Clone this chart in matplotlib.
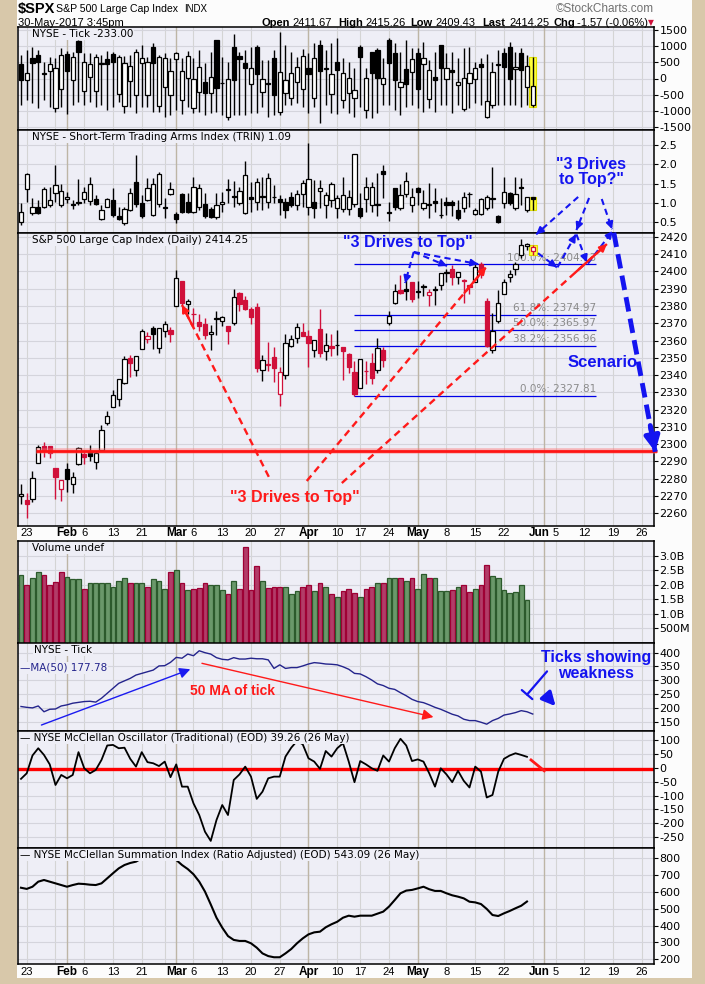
import matplotlib
matplotlib.use('Agg')
import matplotlib.pyplot as plt
from matplotlib.patches import Rectangle
import numpy as np
import pandas as pd

plt.rcParams['axes.unicode_minus'] = False

# ---- S&P 500 daily OHLC, 20-Jan-2017 .. 30-May-2017 ----
spx_open = [2269.96, 2267.78, 2267.88, 2288.88, 2298.63, 2299.02, 2286.01, 2274.02, 2285.59, 2276.69,
            2288.54, 2294.28, 2295.87, 2289.55, 2296.70, 2312.27, 2321.72, 2326.12, 2335.58, 2349.64,
            2343.01, 2354.91, 2361.11, 2367.50, 2355.73, 2365.23, 2366.08, 2380.13, 2394.75, 2380.92,
            2375.23, 2370.74, 2369.81, 2363.49, 2372.52, 2371.56, 2368.55, 2370.34, 2387.71, 2383.71,
            2378.24, 2379.32, 2343.00, 2345.97, 2350.42, 2329.11, 2339.79, 2356.54, 2361.31, 2364.82,
            2362.34, 2354.76, 2366.59, 2353.79, 2356.59, 2357.16, 2355.98, 2352.15, 2341.98, 2332.62,
            2342.53, 2346.79, 2342.69, 2354.74, 2370.33, 2381.51, 2388.98, 2389.70, 2393.68, 2388.50,
            2391.05, 2386.50, 2389.79, 2392.37, 2399.94, 2401.58, 2396.79, 2394.84, 2392.44, 2393.98,
            2404.55, 2382.95, 2354.69, 2371.37, 2387.21, 2397.04, 2401.41, 2409.54, 2414.50, 2411.67]
spx_high = [2276.96, 2271.78, 2284.63, 2299.55, 2300.99, 2299.02, 2286.01, 2279.09, 2289.14, 2283.97,
            2298.31, 2296.18, 2299.40, 2295.91, 2311.08, 2319.23, 2331.58, 2337.58, 2351.30, 2351.31,
            2351.16, 2366.71, 2365.13, 2368.26, 2367.34, 2371.54, 2367.79, 2400.98, 2394.75, 2383.89,
            2378.80, 2375.12, 2373.09, 2369.08, 2376.86, 2374.42, 2368.55, 2390.01, 2388.10, 2385.71,
            2379.55, 2381.93, 2351.81, 2358.92, 2356.22, 2344.90, 2363.78, 2363.36, 2370.42, 2370.35,
            2365.87, 2360.53, 2378.36, 2364.16, 2363.76, 2366.37, 2356.18, 2352.72, 2348.26, 2349.14,
            2348.35, 2352.63, 2361.37, 2356.18, 2376.98, 2392.48, 2398.16, 2395.23, 2393.68, 2394.49,
            2392.93, 2389.82, 2391.43, 2399.29, 2401.36, 2403.87, 2399.74, 2395.72, 2392.44, 2404.05,
            2405.77, 2384.87, 2375.74, 2389.06, 2395.46, 2400.85, 2405.58, 2418.71, 2416.68, 2415.26]
spx_low = [2265.01, 2257.02, 2266.68, 2288.88, 2292.38, 2291.62, 2268.04, 2267.21, 2272.44, 2271.65,
           2287.88, 2288.57, 2290.16, 2285.38, 2296.61, 2311.10, 2321.42, 2322.17, 2334.81, 2338.87,
           2339.58, 2354.91, 2358.34, 2355.09, 2352.87, 2361.87, 2358.96, 2380.13, 2380.17, 2375.39,
           2367.98, 2365.51, 2361.01, 2354.54, 2363.04, 2368.52, 2358.18, 2368.94, 2377.18, 2377.64,
           2369.66, 2341.90, 2336.45, 2342.13, 2335.74, 2322.25, 2337.63, 2356.21, 2358.58, 2362.60,
           2344.73, 2350.72, 2350.52, 2348.90, 2350.74, 2351.50, 2337.25, 2341.18, 2327.81, 2332.51,
           2334.54, 2335.05, 2340.91, 2344.51, 2369.19, 2381.15, 2386.78, 2383.22, 2382.36, 2384.83,
           2385.82, 2379.75, 2380.35, 2389.38, 2393.92, 2392.44, 2392.79, 2381.74, 2387.19, 2393.94,
           2396.05, 2356.21, 2352.72, 2370.43, 2386.92, 2393.88, 2397.99, 2408.01, 2412.20, 2409.43]
spx_close = [2271.31, 2265.20, 2280.07, 2298.37, 2296.68, 2294.69, 2280.90, 2278.87, 2279.55, 2280.85,
             2297.42, 2292.56, 2293.08, 2294.67, 2307.87, 2316.10, 2328.25, 2337.58, 2349.25, 2347.22,
             2351.16, 2365.38, 2362.82, 2363.81, 2367.34, 2369.75, 2363.64, 2395.96, 2381.92, 2383.12,
             2375.31, 2368.39, 2362.98, 2364.87, 2372.60, 2373.47, 2365.45, 2385.26, 2381.38, 2378.25,
             2373.47, 2344.02, 2348.45, 2345.96, 2343.98, 2341.59, 2358.57, 2361.13, 2368.06, 2362.72,
             2358.84, 2360.16, 2352.95, 2357.49, 2355.54, 2357.16, 2353.78, 2344.93, 2328.95, 2349.01,
             2342.19, 2338.17, 2355.84, 2348.69, 2374.15, 2388.61, 2387.45, 2388.77, 2384.20, 2388.33,
             2391.17, 2388.13, 2389.52, 2399.29, 2399.38, 2396.92, 2399.63, 2394.44, 2390.90, 2402.32,
             2400.67, 2357.03, 2365.72, 2381.73, 2394.02, 2398.42, 2404.39, 2415.07, 2415.82, 2414.25]
spx_prev_close = 2263.69

# NYSE TICK daily candles
tick_open = [438, -47, 623, 726, 150, 232, -923, -336, 747, -47, 1160, -387, 56, -387, 450, 603, 757, -490,
             -840, -77, -511, 490, -511, 984, -851, -253, -511, 603, -665, 5, -902, -408, -118, -459, 1190,
             -140, -1180, 984, 696, 490, -181, 984, -428, -150, 644, -1026, -459, -614, -119, -336, 314,
             -614, 1036, 294, -490, 500, -665, -459, -593, 984, -975, 809, 881, -181, 1190, 778, -253, 294,
             191, 778, 438, -634, 36, 1036, -26, 263, -201, -954, -150, -16, 449, -1180, -820, 430, 778,
             964, 294, 778, -253, -820]
tick_high = [727, 881, 984, 881, 520, 675, 644, 933, 850, 830, 1190, 778, 778, 747, 727, 850, 830, 727,
             706, 727, 912, 1036, 675, 1087, 727, 778, 624, 830, 624, 850, 624, 881, 469, 830, 1190, 675,
             520, 1366, 830, 881, 984, 1036, 572, 572, 881, 1448, 1036, 830, 675, 912, 778, 1087, 1190,
             881, 1087, 1242, 624, 520, 314, 1036, 314, 830, 933, 624, 1242, 1087, 830, 1190, 933, 933,
             1139, 572, 830, 1036, 778, 830, 624, 933, 984, 520, 624, 747, 520, 881, 933, 1139, 830, 933,
             727, 650]
tick_low = [-820, -665, -768, -923, -665, -871, -1026, -871, -1108, -820, -716, -820, -716, -871, -820,
            -975, -871, -716, -1077, -871, -1077, -871, -871, -1046, -1046, -1180, -1129, -975, -1108,
            -871, -1077, -1026, -1129, -1077, -1026, -1129, -1283, -1129, -1129, -1129, -1077, -1077,
            -871, -1180, -1129, -1129, -820, -820, -768, -871, -1077, -871, -1387, -820, -1077, -1108,
            -923, -1077, -1180, -871, -1232, -1232, -1077, -820, -820, -975, -1129, -871, -820, -923,
            -1026, -923, -1026, -820, -820, -1077, -820, -1005, -923, -768, -820, -1211, -923, -820,
            -820, -820, -820, -871, -820, -880]
tick_close = [-47, 159, 469, 500, 159, 438, 335, 726, 242, 654, 809, 500, 438, 654, 459, 438, 520, 654,
              469, 397, 809, 624, 521, 469, 654, 624, 232, 778, 232, 706, -16, 366, -459, 56, -304, -150,
              -16, -47, 593, 335, 335, 129, -16, -180, -511, 211, -47, 159, 366, 706, 129, 624, 232, 335,
              129, 263, 159, 5, -356, 654, 5, 159, 26, 26, 469, -47, -98, -181, 593, -336, 624, 263, -47,
              314, 335, 191, -119, 5, 159, 335, 345, -696, 211, 438, 366, -26, 366, 263, 397, -233]

# NYSE TRIN daily candles
trin_open = [0.50, 1.36, 0.73, 0.89, 0.90, 0.93, 1.25, 0.95, 1.10, 0.97, 1.03, 1.10, 1.05, 1.10, 0.58,
             0.90, 1.08, 0.65, 0.47, 0.82, 1.55, 0.99, 1.08, 0.69, 0.96, 0.87, 1.22, 0.70, 1.22, 1.03,
             0.77, 0.90, 0.96, 0.84, 0.62, 0.97, 1.33, 1.17, 0.99, 0.73, 1.16, 1.03, 1.17, 1.03, 1.15,
             1.10, 1.02, 1.14, 0.95, 1.22, 0.88, 1.02, 1.31, 0.95, 1.08, 0.86, 0.84, 0.84, 0.96, 0.86,
             1.10, 0.95, 0.96, 1.83, 0.74, 1.38, 0.86, 1.22, 0.95, 1.38, 0.86, 0.94, 1.05, 0.68, 1.03,
             1.02, 0.82, 0.86, 1.23, 0.70, 0.70, 0.86, 1.11, 0.65, 0.99, 1.25, 0.86, 1.39, 0.82, 1.16]
trin_high = [0.99, 1.77, 1.12, 1.08, 1.40, 1.40, 1.97, 1.48, 1.29, 1.08, 1.62, 1.40, 1.68, 1.21, 0.95,
             1.12, 1.38, 0.88, 0.88, 1.38, 2.24, 1.21, 1.64, 1.64, 1.81, 1.12, 1.55, 0.77, 1.25, 1.25,
             1.66, 1.48, 1.25, 0.90, 1.25, 1.29, 1.62, 1.57, 1.42, 2.09, 1.55, 1.64, 1.68, 1.77, 1.47,
             1.21, 1.12, 1.29, 1.34, 1.60, 2.54, 1.60, 1.60, 1.29, 1.55, 1.21, 1.66, 1.34, 2.26, 1.25,
             1.66, 1.55, 1.77, 1.98, 1.03, 1.38, 1.49, 1.81, 1.38, 1.42, 1.34, 1.51, 1.38, 1.12, 1.16,
             1.08, 1.08, 1.29, 1.29, 0.86, 1.12, 1.21, 1.94, 0.69, 1.68, 1.29, 1.68, 1.64, 1.16, 1.16]
trin_low = [0.43, 1.03, 0.69, 0.70, 0.86, 0.90, 1.03, 0.90, 0.99, 0.84, 0.95, 0.99, 0.95, 0.93, 0.56,
            0.88, 0.62, 0.56, 0.43, 0.78, 0.90, 0.60, 1.05, 0.65, 0.90, 0.60, 1.20, 0.47, 0.73, 0.73,
            0.73, 0.82, 0.60, 0.60, 0.58, 0.77, 0.99, 0.90, 0.95, 0.71, 0.77, 0.82, 0.82, 0.86, 0.99,
            0.69, 0.60, 0.90, 0.82, 0.90, 0.69, 0.60, 0.86, 0.60, 0.90, 0.60, 0.77, 0.69, 0.90, 0.60,
            0.77, 0.77, 0.65, 1.12, 0.52, 0.82, 0.82, 1.16, 0.77, 0.95, 0.82, 0.60, 0.77, 0.60, 0.69,
            0.65, 0.56, 0.77, 0.90, 0.67, 0.69, 0.82, 0.86, 0.47, 0.86, 0.95, 0.82, 0.95, 0.77, 0.80]
trin_close = [0.76, 1.74, 0.90, 0.73, 1.35, 1.08, 1.45, 1.31, 1.15, 0.94, 1.00, 1.28, 1.48, 0.96, 0.82,
              1.10, 0.67, 0.58, 0.83, 1.25, 0.96, 0.65, 1.38, 1.48, 1.74, 0.86, 1.35, 0.58, 0.77, 0.76,
              1.41, 1.38, 0.65, 0.62, 0.93, 1.01, 1.34, 1.16, 1.31, 1.71, 1.10, 1.53, 1.16, 1.64, 1.14,
              1.03, 0.82, 0.95, 1.22, 1.51, 1.62, 0.86, 1.38, 1.21, 1.48, 1.12, 1.19, 1.14, 2.26, 0.65,
              1.42, 1.40, 0.95, 1.74, 0.73, 0.88, 1.21, 1.57, 1.16, 1.28, 0.99, 0.95, 0.99, 0.67, 0.93,
              0.93, 0.60, 1.14, 1.22, 0.82, 1.10, 1.16, 1.10, 0.50, 1.29, 0.99, 1.22, 1.38, 1.16, 1.09]

# SPX volume in billions (30-May not yet reported)
volume_b = [2.34, 1.99, 2.22, 2.46, 2.34, 1.99, 2.09, 2.46, 2.27, 2.19,
            2.20, 1.87, 2.05, 2.08, 2.08, 2.05, 1.94, 2.15, 2.22, 2.05,
            2.08, 2.08, 1.94, 2.19, 2.15, 1.87, 2.46, 2.50, 2.08, 1.81,
            1.87, 1.90, 2.05, 1.98, 2.01, 1.84, 1.67, 2.15, 1.87, 3.29,
            1.81, 2.64, 2.12, 1.90, 1.91, 1.91, 1.91, 1.70, 1.80, 1.94,
            2.01, 1.80, 2.08, 1.91, 1.70, 1.60, 1.80, 1.87, 1.73, 1.60,
            1.87, 1.94, 2.05, 2.05, 2.22, 2.25, 2.22, 2.15, 2.22, 1.87,
            2.36, 2.25, 2.22, 1.80, 1.80, 1.84, 1.94, 1.98, 1.77, 1.87,
            2.01, 2.67, 2.29, 2.22, 1.84, 1.73, 1.77, 1.98, 1.49]

# 50 day MA of NYSE TICK
tick_ma50 = [205, 202, 200, 207, 186, 195, 196, 207, 211, 217,
             220, 223, 224, 221, 235, 253, 271, 289, 298, 307,
             319, 325, 331, 337, 352, 353, 365, 383, 380, 395,
             389, 407, 400, 395, 382, 376, 374, 382, 377, 377,
             380, 378, 378, 374, 343, 356, 343, 346, 346, 352,
             359, 364, 362, 359, 358, 356, 349, 340, 325, 323,
             313, 301, 287, 281, 271, 267, 255, 244, 231, 223,
             219, 211, 202, 195, 186, 177, 171, 159, 154, 154,
             148, 141, 154, 162, 174, 178, 183, 190, 186, 177.78]

# McClellan oscillator / summation (EOD, through 26 May)
mcc_osc = [-40, -20, 44, 70, 46, 12, -62, -26, -38, -26,
           56, -2, -20, -8, 28, 80, 82, 70, 72, 32,
           4, 56, 20, 16, 6, 22, -34, 12, -68, -68,
           -128, -170, -230, -263, -188, -134, -170, -44, -24, 4,
           -32, -112, -86, -38, -32, -32, 40, 72, 96, 84,
           34, 22, -4, 60, 40, 70, 88, 22, -52, 24,
           12, -2, -11, 44, 22, 70, 104, 80, 24, 30,
           22, -20, -68, -2, -24, -52, -11, -47, -71, 4,
           -14, -107, -98, -14, 32, 44, 52, 46, 39.26]
mcc_sum = [625, 618, 631, 661, 671, 661, 651, 641, 631, 641,
           649, 647, 643, 641, 651, 681, 711, 740, 760, 772,
           780, 800, 815, 825, 830, 830, 820, 790, 760, 736,
           705, 661, 602, 526, 447, 388, 338, 315, 309, 309,
           295, 269, 235, 219, 212, 212, 235, 261, 295, 324,
           348, 360, 364, 390, 408, 423, 447, 459, 453, 459,
           459, 459, 471, 483, 513, 552, 592, 608, 612, 621,
           631, 616, 606, 606, 592, 580, 572, 562, 542, 538,
           528, 499, 463, 457, 473, 487, 503, 518, 543.09]

fib_pct = ['0.0%', '38.2%', '50.0%', '61.8%', '100.0%']
fib_level = [2327.81, 2356.96, 2365.97, 2374.97, 2404.13]

week_label_dates = ['2017-01-23', '2017-02-06', '2017-02-13', '2017-02-21', '2017-03-06', '2017-03-13',
                    '2017-03-20', '2017-03-27', '2017-04-10', '2017-04-17', '2017-04-24', '2017-05-08',
                    '2017-05-15', '2017-05-22', '2017-06-05', '2017-06-12', '2017-06-19', '2017-06-26']
week_label_text = ['23', '6', '13', '21', '6', '13', '20', '27', '10', '17', '24', '8', '15', '22',
                   '5', '12', '19', '26']
month_label_dates = ['2017-02-01', '2017-03-01', '2017-04-03', '2017-05-01', '2017-06-01']
month_label_text = ['Feb', 'Mar', 'Apr', 'May', 'Jun']
holidays = ['2017-02-20', '2017-04-14', '2017-05-29']

# trading day axis
days = pd.bdate_range('2017-01-20', '2017-06-30')
days = days[~days.isin(pd.to_datetime(holidays))]
def pos(d):
    return days.get_loc(pd.Timestamp(d))
week_starts = [i for i in range(1, len(days)) if days[i].weekday() < days[i - 1].weekday()]
month_starts = [i for i in range(1, len(days)) if days[i].month != days[i - 1].month]

W, H = 705, 984
fig = plt.figure(figsize=(W / 100, H / 100), dpi=100)
fig.patch.set_facecolor('#D8C8AA')
fig.patches.append(Rectangle((17 / W, 6 / H), 675 / W, 978 / H, transform=fig.transFigure,
                             facecolor='#FCFCFC', edgecolor='none', zorder=-5))

BG = '#EEEEF6'
RED = '#D0103A'
BLUE = '#1414F0'
X0, X1 = 18, 654
XL = (-0.52, 110.09)
LBL = dict(family='DejaVu Sans', fontsize=7.5)


def panel(top, bottom, ylim, ticks, labels=None):
    ax = fig.add_axes([X0 / W, 1 - bottom / H, (X1 - X0) / W, (bottom - top) / H])
    ax.set_facecolor(BG)
    ax.set_xlim(*XL)
    ax.set_ylim(*ylim)
    ax.set_xticks([])
    ax.yaxis.tick_right()
    ax.set_yticks(ticks)
    if labels is not None:
        ax.set_yticklabels(labels)
    ax.tick_params(axis='y', direction='out', length=3, width=0.8, labelsize=8, pad=1)
    ax.grid(axis='y', color='#D4D4DC', lw=0.8)
    ax.set_axisbelow(True)
    for w in week_starts:
        ax.axvline(w, color='#D4D4D4', lw=0.8, zorder=0.5)
    for m in month_starts:
        ax.axvline(m, color='#BDB5A5', lw=1.0, zorder=0.6)
    for s in ax.spines.values():
        s.set_linewidth(1.1)
    return ax


def title(ax, text, dx=14, dy=-2, color='black'):
    ax.annotate(text, xy=(0, 1), xycoords='axes fraction', xytext=(dx, dy), textcoords='offset pixels',
                ha='left', va='top', color=color, zorder=20,
                bbox=dict(facecolor=BG, edgecolor='none', pad=0.5), **LBL)


def candles(ax, o, h, l, c, prev=None, bw=0.72, minh=0.0):
    for i in range(len(c)):
        if prev is None:
            col = 'black'
        else:
            ref = prev if i == 0 else c[i - 1]
            col = RED if c[i] < ref else 'black'
        ax.vlines(i, l[i], h[i], color=col, lw=1.0, zorder=3)
        lo, hi = min(o[i], c[i]), max(o[i], c[i])
        face = col if c[i] < o[i] else 'white'
        ax.add_patch(Rectangle((i - bw / 2, lo), bw, max(hi - lo, minh), facecolor=face,
                               edgecolor=col, lw=0.9, zorder=4))


def highlight(ax, i, lo, hi, w=1.25):
    ax.add_patch(Rectangle((i - w / 2, lo), w, hi - lo, facecolor='#FFFF3A', edgecolor='#E0E000',
                           lw=0.8, zorder=2.5))


def dash_arrow(ax, p0, p1, color, lw=1.6, dash=(3, 2), head=10):
    ax.plot([p0[0], p1[0]], [p0[1], p1[1]], color=color, lw=lw, dashes=dash, clip_on=False,
            solid_capstyle='butt', zorder=8)
    mid = (p0[0] + 0.88 * (p1[0] - p0[0]), p0[1] + 0.88 * (p1[1] - p0[1]))
    ax.annotate('', xy=p1, xytext=mid, annotation_clip=False, zorder=9,
                arrowprops=dict(arrowstyle='-|>', color=color, lw=lw, mutation_scale=head,
                                shrinkA=0, shrinkB=0))


def date_labels(ax, ypix):
    tr = ax.get_xaxis_transform()
    h = ax.get_position().height * H
    wk = [pos(d) for d in week_label_dates]
    for x, t in zip(wk, week_label_text):
        ax.text(x, -ypix / h, t, transform=tr, ha='center', va='center', fontsize=8,
                family='Liberation Sans', clip_on=False)
    for d, t in zip(month_label_dates, month_label_text):
        x = pos(d)
        # crowded month name: push it left of the week number
        if any(0 < w - x <= 2 for w in wk):
            x -= 0.9
        ax.text(x, -ypix / h, t, transform=tr, ha='center', va='center', fontsize=8.5,
                fontweight='bold', family='Liberation Sans', clip_on=False)


n = len(spx_close)
xi = np.arange(n)

# ---- header ----
hf = dict(family='Liberation Sans')
fig.text(18 / W, 1 - 9 / H, '$SPX', fontsize=10.5, fontweight='bold', va='center', **hf)
fig.text(56 / W, 1 - 9 / H, 'S&P 500 Large Cap Index', fontsize=7.6, va='center', **hf)
fig.text(184 / W, 1 - 9 / H, 'INDX', fontsize=7, va='center', **hf)
fig.text(654 / W, 1 - 9 / H, '\u00a9StockCharts.com', fontsize=8.5, color='#707070', ha='right',
         va='center', **hf)
fig.text(18 / W, 1 - 22.5 / H, '30-May-2017 3:45pm', fontsize=8, va='center', **hf)
hdr = [('Open', 261, True), ('2411.67', 292, False), ('High', 338, True), ('2415.26', 365, False),
       ('Low', 410, True), ('2409.43', 435, False), ('Last', 482, True), ('2414.25', 509, False),
       ('Chg', 553, True), ('-1.57 (-0.06%)', 577, False)]
for t, x, b in hdr:
    fig.text(x / W, 1 - 22.5 / H, t, fontsize=8, va='center', fontweight='bold' if b else 'normal', **hf)
fig.text(651 / W, 1 - 22.5 / H, '\u25bc', fontsize=5.5, color=RED, va='center', ha='center',
         family='DejaVu Sans')

# ---- NYSE TICK ----
ax1 = panel(27, 130, (-1593, 1593), [-1500, -1000, -500, 0, 500, 1000, 1500])
highlight(ax1, n - 1, tick_low[-1], tick_high[-1])
candles(ax1, tick_open, tick_high, tick_low, tick_close, minh=25)
title(ax1, 'NYSE - Tick -233.00')

# ---- TRIN ----
ax2 = panel(130, 233, (0.215, 2.89), [0.5, 1.0, 1.5, 2.0, 2.5], ['0.5', '1.0', '1.5', '2.0', '2.5'])
highlight(ax2, n - 1, trin_low[-1], trin_high[-1])
candles(ax2, trin_open, trin_high, trin_low, trin_close, minh=0.02)
title(ax2, 'NYSE - Short-Term Trading Arms Index (TRIN) 1.09')

# ---- SPX ----
ax3 = panel(233, 526, (2252.5, 2422.3), list(range(2260, 2421, 10)))
for p, v in zip(fib_pct, fib_level):
    ax3.hlines(v, pos('2017-04-13'), 100, color='#0000E6', lw=0.9, zorder=2)
    ax3.text(100, v + 1.0, f'{p}: {v:.2f}', ha='right', va='bottom', color='#8A8A8A', zorder=2, **LBL)
ax3.hlines(2296, 2.6, XL[1] + 0.6, color='#FF7070', lw=4, alpha=0.45, zorder=5, clip_on=False)
ax3.hlines(2296, 2.6, XL[1] + 0.6, color='#FF1414', lw=2, zorder=5, clip_on=False)
highlight(ax3, n - 1, spx_low[-1], spx_high[-1], w=1.4)
candles(ax3, spx_open, spx_high, spx_low, spx_close, prev=spx_prev_close, minh=0.4)
title(ax3, 'S&P 500 Large Cap Index (Daily) 2414.25')

# red "3 drives" lines
dash_arrow(ax3, (43.1, 2281), (28.0, 2380.6), '#FF1A1A', lw=1.7)
dash_arrow(ax3, (49.7, 2278.6), (80.9, 2402.6), '#FF1A1A', lw=1.7)
dash_arrow(ax3, (55.8, 2277.4), (101.9, 2415.9), '#FF1A1A', lw=1.7)
ax3.text(47.7, 2269.3, '"3 Drives to Top"', color='#FF1A1A', fontsize=11.5, fontweight='bold',
         ha='center', va='center', zorder=10, **hf)
# blue "3 drives" arrows
ax3.text(67.3, 2416.6, '"3 Drives to Top"', color=BLUE, fontsize=11.5, fontweight='bold',
         ha='center', va='center', zorder=10, **hf)
for p1 in [(66.8, 2393.3), (74.1, 2403.2), (79.5, 2404.3)]:
    dash_arrow(ax3, (68.3, 2411.3), p1, BLUE, lw=1.5)
# projected zigzag
dash_arrow(ax3, (89.9, 2410.6), (93.2, 2402.4), BLUE, lw=1.5)
dash_arrow(ax3, (93.3, 2402.4), (96.5, 2421.5), BLUE, lw=1.5)
dash_arrow(ax3, (96.6, 2421.5), (98.4, 2405.3), BLUE, lw=1.5)
dash_arrow(ax3, (98.6, 2404.6), (102.9, 2423.5), BLUE, lw=1.5)
dash_arrow(ax3, (103.1, 2422.5), (110.3, 2295.5), BLUE, lw=3.5, dash=(3, 1.5), head=22)
ax3.text(99.2, 2457.7, '"3 Drives\nto Top?"', color=BLUE, fontsize=11.5, fontweight='bold',
         ha='center', va='center', linespacing=1.05, zorder=10, clip_on=False, **hf)
dash_arrow(ax3, (96.9, 2443.2), (89.6, 2421.5), BLUE, lw=1.5)
dash_arrow(ax3, (98.8, 2442.6), (96.6, 2424.0), BLUE, lw=1.5)
dash_arrow(ax3, (101.0, 2442.0), (102.8, 2424.5), BLUE, lw=1.5)
ax3.text(101.2, 2347.5, 'Scenario', color=BLUE, fontsize=12, fontweight='bold', ha='center',
         va='center', zorder=10, **hf)
date_labels(ax3, 7)

# ---- volume ----
ax4 = panel(541, 643, (0, 3.51), [0.5, 1.0, 1.5, 2.0, 2.5, 3.0],
            ['500M', '1.0B', '1.5B', '2.0B', '2.5B', '3.0B'])
prev = [spx_prev_close] + spx_close[:-1]
vcols = ['#6A986A' if spx_close[i] >= prev[i] else '#B23C68' for i in range(len(volume_b))]
vedge = ['#2C5A2C' if spx_close[i] >= prev[i] else '#9E0034' for i in range(len(volume_b))]
ax4.bar(np.arange(len(volume_b)), volume_b, width=0.86, color=vcols, edgecolor=vedge, lw=0.9, zorder=3)
title(ax4, 'Volume undef')

# ---- TICK MA(50) ----
ax5 = panel(643, 731, (116.3, 435.1), [150, 200, 250, 300, 350, 400])
ax5.plot(xi, tick_ma50, color='#24248C', lw=1.0, zorder=3)
title(ax5, 'NYSE - Tick', dx=16)
title(ax5, '\u2014MA(50) 177.78', dx=2, dy=-20, color='#24248C')
ax5.annotate('', xy=(29.9, 343.5), xytext=(3.1, 134.4),
             arrowprops=dict(arrowstyle='-|>', color='#1A1AF0', lw=1.0, mutation_scale=16), zorder=6)
ax5.annotate('', xy=(72.2, 164.5), xytext=(31.0, 363.8),
             arrowprops=dict(arrowstyle='-|>', color='#FF1A1A', lw=1.0, mutation_scale=16), zorder=6)
ax5.text(36.7, 261, '50 MA of tick', color='#FF1A1A', fontsize=10, fontweight='bold', ha='center',
         va='center', **hf)
ax5.text(100.0, 354, 'Ticks showing\nweakness', color=BLUE, fontsize=11.5, fontweight='bold',
         ha='center', va='center', linespacing=1.1, **hf)
ax5.annotate('', xy=(87.7, 240.6), xytext=(91.8, 339.9),
             arrowprops=dict(arrowstyle='-[, widthB=0.5, lengthB=0', color=BLUE, lw=1.6), zorder=6)
ax5.annotate('', xy=(93.3, 198.6), xytext=(91.0, 252.9),
             arrowprops=dict(arrowstyle='-|>', color=BLUE, lw=2.5, mutation_scale=20), zorder=6)

# ---- McClellan oscillator ----
ax6 = panel(731, 848, (-288.5, 132), [-250, -200, -150, -100, -50, 0, 50, 100])
ax6.axhline(-5, color='#FF0000', lw=2.4, zorder=2)
ax6.plot(np.arange(len(mcc_osc)), mcc_osc, color='black', lw=1.3, zorder=3)
ax6.plot([88.7, 91.0], [28, -11], color='#FF1A1A', lw=2, zorder=3)
title(ax6, '\u2014 NYSE McClellan Oscillator (Traditional) (EOD) 39.26 (26 May)', dx=2)

# ---- McClellan summation ----
ax7 = panel(848, 964, (172, 861), [200, 300, 400, 500, 600, 700, 800])
ax7.plot(np.arange(len(mcc_sum)), mcc_sum, color='black', lw=1.5, zorder=3)
title(ax7, '\u2014 NYSE McClellan Summation Index (Ratio Adjusted) (EOD) 543.09 (26 May)', dx=2)
date_labels(ax7, 8)

fig.savefig('out.png', dpi=100, facecolor=fig.get_facecolor())
